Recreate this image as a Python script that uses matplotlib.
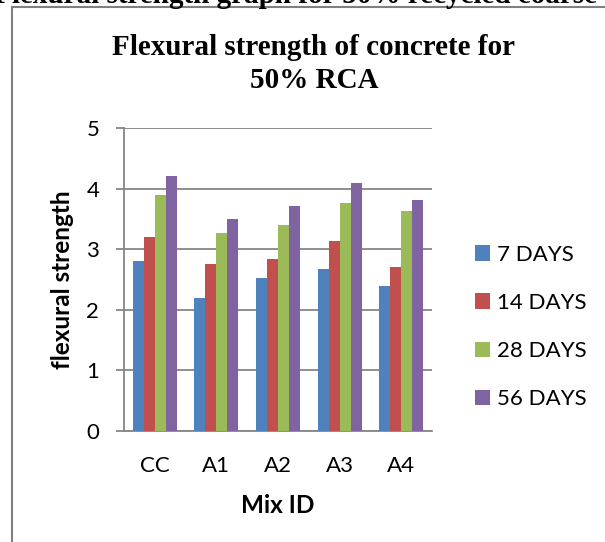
import matplotlib
matplotlib.use("Agg")
import matplotlib.pyplot as plt
from matplotlib.lines import Line2D
import numpy as np

# Data
mix_ids = ["CC", "A1", "A2", "A3", "A4"]
series_names = ["7 DAYS", "14 DAYS", "28 DAYS", "56 DAYS"]
days_7 = [2.80, 2.20, 2.52, 2.67, 2.40]
days_14 = [3.20, 2.76, 2.84, 3.14, 2.70]
days_28 = [3.90, 3.26, 3.40, 3.76, 3.63]
days_56 = [4.20, 3.50, 3.71, 4.10, 3.82]
colors = ["#4F81BD", "#C0504D", "#9BBB59", "#8064A2"]

W, H = 605, 542
grid_color = "#868686"
sans = ["Lato", "DejaVu Sans"]
serif = ["Liberation Serif", "DejaVu Serif"]

fig = plt.figure(figsize=(W / 100, H / 100), dpi=100)
ax = fig.add_axes([124 / W, 1 - 431 / H, (432 - 124) / W, (431 - 128) / H])

# Grouped bars
x = np.arange(len(mix_ids))
bar_w = 0.179
for i, (vals, name, c) in enumerate(zip([days_7, days_14, days_28, days_56], series_names, colors)):
    ax.bar(x + (i - 1.5) * bar_w, vals, bar_w, color=c, label=name, zorder=3)

ax.set_xlim(-0.5, len(mix_ids) - 0.5)
ax.set_ylim(0, 5)
ax.set_yticks(range(6))
ax.set_xticks(x)
ax.set_xticklabels(mix_ids, family=sans, fontsize=16)
ax.set_yticklabels([str(v) for v in range(6)], family=sans, fontsize=16)

ax.yaxis.grid(True, color=grid_color, linewidth=1.3, zorder=0)
ax.set_axisbelow(True)
for side in ["top", "right"]:
    ax.spines[side].set_visible(False)
for side in ["left", "bottom"]:
    ax.spines[side].set_color(grid_color)
    ax.spines[side].set_linewidth(1.3)
ax.tick_params(axis="y", length=5.8, width=1.3, color=grid_color, pad=12)
ax.tick_params(axis="x", length=0, pad=18)

ax.set_xlabel("Mix ID", family=sans, fontsize=17.5, fontweight="bold", labelpad=13)
ax.set_ylabel("flexural strength", family=sans, fontsize=17.5, fontweight="bold", labelpad=9)

ax.legend(loc="center left", bbox_to_anchor=(475 / W, 1 - 327 / H),
          bbox_transform=fig.transFigure, frameon=False, borderpad=0,
          borderaxespad=0, handlelength=0.68, handleheight=0.68,
          handletextpad=0.32, labelspacing=1.27,
          prop={"family": sans, "size": 16})

# Chart title
fig.text(314 / W, 1 - 55 / H, "Flexural strength of concrete for", ha="center",
         va="baseline", family=serif, fontweight="bold", fontsize=21)
fig.text(314 / W, 1 - 88 / H, "50% RCA", ha="center", va="baseline",
         family=serif, fontweight="bold", fontsize=21)

# Cut-off caption above the frame
fig.text(597 / W, 1 - 3 / H, "Fig. 5.3: Flexural strength graph for 50% recycled coarse",
         ha="right", va="baseline", family=serif, fontweight="bold", fontsize=21)

# Chart frame (left and top edges visible)
fig.add_artist(Line2D([12 / W, 12 / W], [-0.05, 1 - 7 / H], transform=fig.transFigure,
                      color="#808080", linewidth=1.5))
fig.add_artist(Line2D([12 / W, 1.05], [1 - 7 / H, 1 - 7 / H], transform=fig.transFigure,
                      color="#808080", linewidth=1.5))

fig.savefig("out.png", dpi=100)
